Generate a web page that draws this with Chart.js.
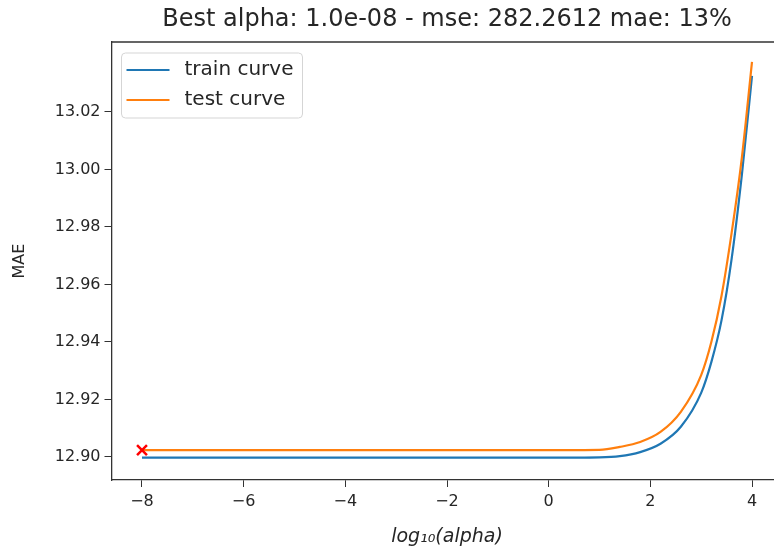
<!DOCTYPE html>
<html>
<head>
<meta charset="utf-8">
<script src="https://cdn.jsdelivr.net/npm/chart.js@4.4.1/dist/chart.umd.min.js"></script>
<style>
  html, body { margin: 0; padding: 0; background: #fff; overflow: hidden; }
  #wrap { width: 800px; height: 550px; }
</style>
</head>
<body>
<div id="wrap"><canvas id="chart" width="800" height="550"></canvas></div>
<script>
// log10(alpha) sampled values
const logAlpha = [-8, -6, -4, -2, 0, 1, 1.4, 1.8, 2.2, 2.6, 3, 3.2, 3.4, 3.6, 3.8, 4];
// MAE
const trainMae = [12.8998, 12.8998, 12.8998, 12.8998, 12.8998, 12.8999, 12.9003, 12.9017, 12.9046, 12.9105, 12.9223, 12.9330, 12.9475, 12.9690, 12.9980, 13.0325];
const testMae  = [12.9024, 12.9024, 12.9024, 12.9024, 12.9024, 12.9025, 12.9035, 12.9052, 12.9087, 12.9157, 12.9285, 12.9400, 12.9560, 12.9780, 13.0040, 13.0374];
// best alpha marker
const bestLogAlpha = [-8];
const bestMae = [12.9024];

const xTicks = [-8, -6, -4, -2, 0, 2, 4];
const yTicks = [12.90, 12.92, 12.94, 12.96, 12.98, 13.00, 13.02];

const seriesNames = ['train curve', 'test curve'];
const titleText = 'Best alpha: 1.0e-08 - mse: 282.2612 mae: 13%';
const blue = '#1f77b4';
const orange = '#ff7f0e';
const ink = '#262626';
const font = 'DejaVu Sans';

// titre centré sur la zone du graphe, légende dans le coin, cadre haut/droite
const boxPlugin = {
  id: 'boxPlugin',
  afterDatasetsDraw(chart) {
    const { ctx, chartArea } = chart;
    ctx.save();
    ctx.strokeStyle = '#333';
    ctx.lineWidth = 1.3;
    ctx.beginPath();
    ctx.moveTo(chartArea.left, chartArea.top);
    ctx.lineTo(chartArea.right, chartArea.top);
    ctx.lineTo(chartArea.right, chartArea.bottom);
    ctx.stroke();

    // title
    ctx.fillStyle = ink;
    ctx.font = '24px "' + font + '"';
    ctx.textAlign = 'center';
    ctx.textBaseline = 'middle';
    ctx.fillText(titleText, (chartArea.left + chartArea.right) / 2, 20);

    // legend box
    const lx = chartArea.left + 10, ly = chartArea.top + 11, lw = 181, lh = 65;
    ctx.fillStyle = 'rgba(255,255,255,0.8)';
    ctx.strokeStyle = '#d5d5d5';
    ctx.lineWidth = 1;
    ctx.beginPath();
    ctx.roundRect(lx, ly, lw, lh, 4);
    ctx.fill();
    ctx.stroke();

    const colors = [blue, orange];
    ctx.font = '20px "' + font + '"';
    ctx.textAlign = 'left';
    seriesNames.forEach((name, i) => {
      const y = ly + 17 + i * 30;
      ctx.strokeStyle = colors[i];
      ctx.lineWidth = 2.2;
      ctx.beginPath();
      ctx.moveTo(lx + 5, y);
      ctx.lineTo(lx + 48, y);
      ctx.stroke();
      ctx.fillStyle = ink;
      ctx.fillText(name, lx + 63, y);
    });
    ctx.restore();
  }
};

const ctx = document.getElementById('chart').getContext('2d');
const myChart = new Chart(ctx, {
  type: 'line',
  data: {
    datasets: [
      {
        label: seriesNames[0],
        data: logAlpha.map((x, i) => ({ x: x, y: trainMae[i] })),
        borderColor: blue,
        borderWidth: 2.2,
        pointRadius: 0,
        cubicInterpolationMode: 'monotone',
        order: 2
      },
      {
        label: seriesNames[1],
        data: logAlpha.map((x, i) => ({ x: x, y: testMae[i] })),
        borderColor: orange,
        borderWidth: 2.2,
        pointRadius: 0,
        cubicInterpolationMode: 'monotone',
        order: 1
      },
      {
        label: 'best',
        type: 'scatter',
        data: bestLogAlpha.map((x, i) => ({ x: x, y: bestMae[i] })),
        pointStyle: 'crossRot',
        pointRadius: 7,
        borderColor: '#ff0000',
        borderWidth: 2.5,
        order: 0
      }
    ]
  },
  options: {
    responsive: false,
    animation: false,
    layout: { padding: { left: 0, right: 17.5, top: 42, bottom: 0 } },
    plugins: {
      legend: { display: false },
      tooltip: { enabled: false },
      title: { display: false }
    },
    scales: {
      x: {
        type: 'linear',
        min: -8.6,
        max: 4.6,
        afterBuildTicks: (s) => { s.ticks = xTicks.map(v => ({ value: v })); },
        afterFit: (s) => { s.height = 70; },
        grid: { drawOnChartArea: false, drawTicks: true, tickLength: 7, color: '#333' },
        border: { display: true, color: '#333', width: 1.3 },
        ticks: {
          color: ink,
          padding: 5,
          font: { family: font, size: 16 },
          callback: (v) => v < 0 ? '\u2212' + Math.abs(v) : String(v)
        },
        title: {
          display: true,
          text: 'log\u2081\u2080(alpha)',
          color: ink,
          font: { family: font, size: 19, style: 'italic' },
          padding: { top: 2, bottom: 2 }
        }
      },
      y: {
        type: 'linear',
        min: 12.892,
        max: 13.0443,
        afterBuildTicks: (s) => { s.ticks = yTicks.map(v => ({ value: v })); },
        afterFit: (s) => { s.width = 111.5; },
        grid: { drawOnChartArea: false, drawTicks: true, tickLength: 7, color: '#333' },
        border: { display: true, color: '#333', width: 1.3 },
        ticks: {
          color: ink,
          padding: 4,
          font: { family: font, size: 16 },
          callback: (v) => v.toFixed(2)
        },
        title: {
          display: true,
          text: 'MAE',
          color: ink,
          font: { family: font, size: 16 },
          padding: { top: 10, bottom: 0 }
        }
      }
    }
  },
  plugins: [boxPlugin]
});
</script>
</body>
</html>
